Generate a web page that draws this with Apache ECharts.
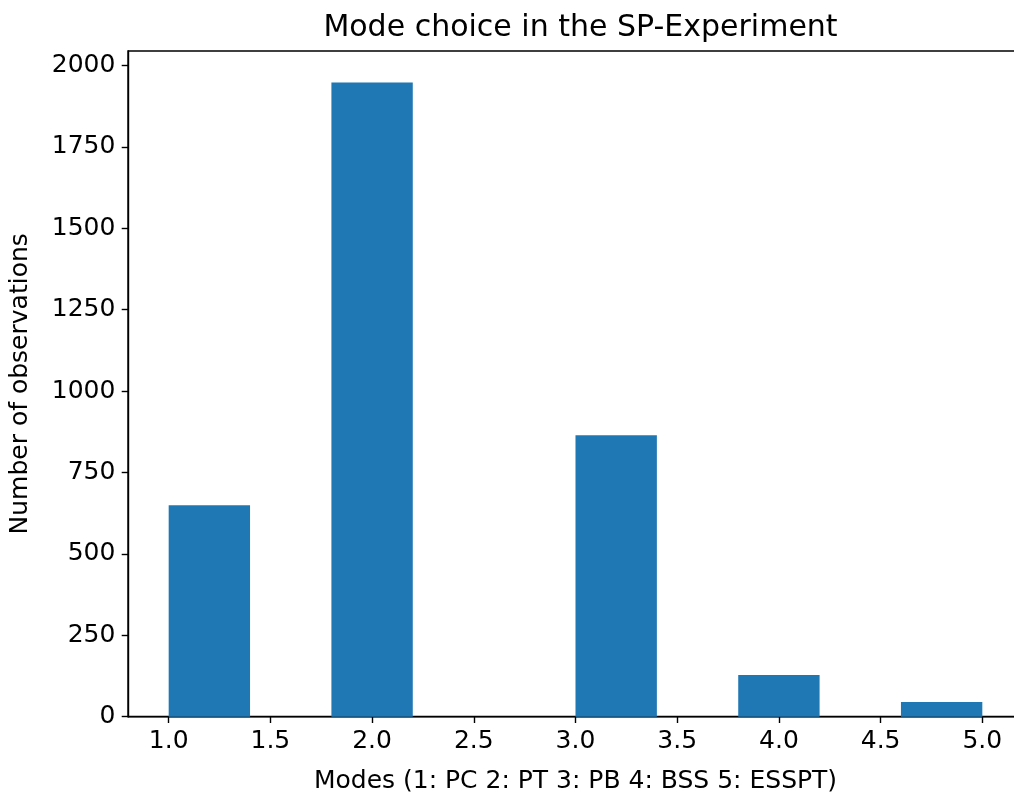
<!DOCTYPE html>
<html>
<head>
<meta charset="utf-8">
<script src="https://cdn.jsdelivr.net/npm/echarts@6/dist/echarts.min.js"></script>
<style>
html,body{margin:0;padding:0;background:#fff;overflow:hidden;}
#c{width:1014px;height:796px;}
</style>
</head>
<body>
<div id="c"></div>
<script>
// Histogram bin edges and counts
const binEdges = [1.0, 1.4, 1.8, 2.2, 2.6, 3.0, 3.4, 3.8, 4.2, 4.6, 5.0];
const counts = [649, 0, 1947, 0, 0, 864, 0, 128, 0, 45];
const xTicks = [1.0, 1.5, 2.0, 2.5, 3.0, 3.5, 4.0, 4.5, 5.0];
const yTicks = [0, 250, 500, 750, 1000, 1250, 1500, 1750, 2000];
const titleText = 'Mode choice in the SP-Experiment';
const xName = 'Modes (1: PC 2: PT 3: PB 4: BSS 5: ESSPT)';
const yName = 'Number of observations';

const data = counts.map((c, i) => [binEdges[i], binEdges[i + 1], c]);
const font = 'DejaVu Sans';
const ink = '#000';

const chart = echarts.init(document.getElementById('c'), null, {renderer: 'canvas'});
chart.setOption({
  animation: false,
  backgroundColor: '#fff',
  title: {
    text: titleText,
    left: 575.5,
    textAlign: 'center',
    top: 8,
    textStyle: {fontFamily: font, fontSize: 30, fontWeight: 'normal', color: ink}
  },
  grid: {
    left: 128, top: 51, width: 895, height: 665.7,
    outerBoundsMode: 'none', containLabel: false,
    show: true, borderColor: ink, borderWidth: 1.4, backgroundColor: 'transparent'
  },
  xAxis: {
    type: 'value', min: 0.8, max: 5.2,
    name: xName, nameLocation: 'middle', nameGap: 52,
    nameTextStyle: {fontFamily: font, fontSize: 25, color: ink},
    axisLine: {show: true, onZero: false, lineStyle: {color: ink, width: 1.4}},
    axisTick: {show: true, length: 6.3, lineStyle: {color: ink, width: 1.4}, customValues: xTicks},
    axisLabel: {fontFamily: font, fontSize: 25, color: ink, margin: 12.6, customValues: xTicks,
      formatter: v => Number(v).toFixed(1)},
    splitLine: {show: false}
  },
  yAxis: {
    type: 'value', min: 0, max: 2044,
    name: yName, nameLocation: 'middle', nameGap: 95,
    nameTextStyle: {fontFamily: font, fontSize: 25, color: ink},
    axisLine: {show: true, lineStyle: {color: ink, width: 1.4}},
    axisTick: {show: true, length: 6.3, lineStyle: {color: ink, width: 1.4}, customValues: yTicks},
    axisLabel: {fontFamily: font, fontSize: 25, color: ink, margin: 12.6, customValues: yTicks,
      formatter: v => String(v)},
    splitLine: {show: false}
  },
  series: [{
    type: 'custom',
    data: data,
    encode: {x: [0, 1], y: 2},
    renderItem: function (params, api) {
      const x0 = api.value(0), x1 = api.value(1), y = api.value(2);
      const p0 = api.coord([x0, y]);
      const p1 = api.coord([x1, 0]);
      return {
        type: 'rect',
        shape: {x: p0[0], y: p0[1], width: p1[0] - p0[0], height: p1[1] - p0[1]},
        style: {fill: '#1f77b4'}
      };
    }
  }]
});
</script>
</body>
</html>
